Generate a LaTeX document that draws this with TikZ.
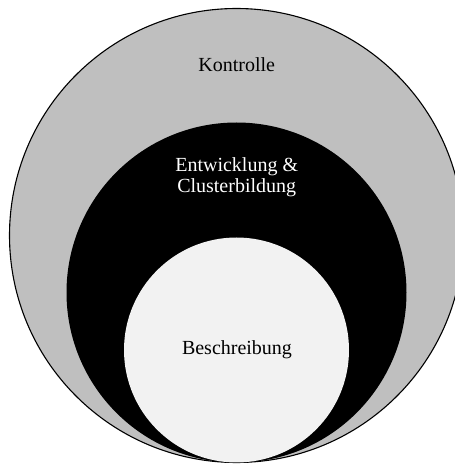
\documentclass[tikz,border=0pt]{standalone}
\usepackage{fontspec}
\setmainfont{Liberation Serif}
\definecolor{ringgray}{RGB}{191,191,191}
\definecolor{corefill}{RGB}{242,242,242}
\begin{document}
\begin{tikzpicture}[x=1pt,y=1pt,
  label/.style={align=center,font=\fontsize{20}{21}\selectfont,inner sep=0pt}]
  \useasboundingbox (0,0) rectangle (455,464);
  \clip (0,0) rectangle (455,464);
  % nested circles, all touching at the bottom
  \draw[fill=ringgray,line width=1.1pt] (236.5,228.5) circle (227);
  \fill[black] (236.5,171.5) circle (170);
  \fill[corefill] (236.5,114) circle (112.5);
  % labels
  \node[label,anchor=base] (kontrolle) at (236.7,392.5) {Kontrolle};
  \node[label,anchor=base,text=white] (entw) at (236.7,292) {Entwicklung \&};
  \node[label,anchor=base,text=white] (cluster) at (236.7,271) {Clusterbildung};
  \node[label,anchor=base] (beschr) at (237,109) {Beschreibung};
\end{tikzpicture}
\end{document}
